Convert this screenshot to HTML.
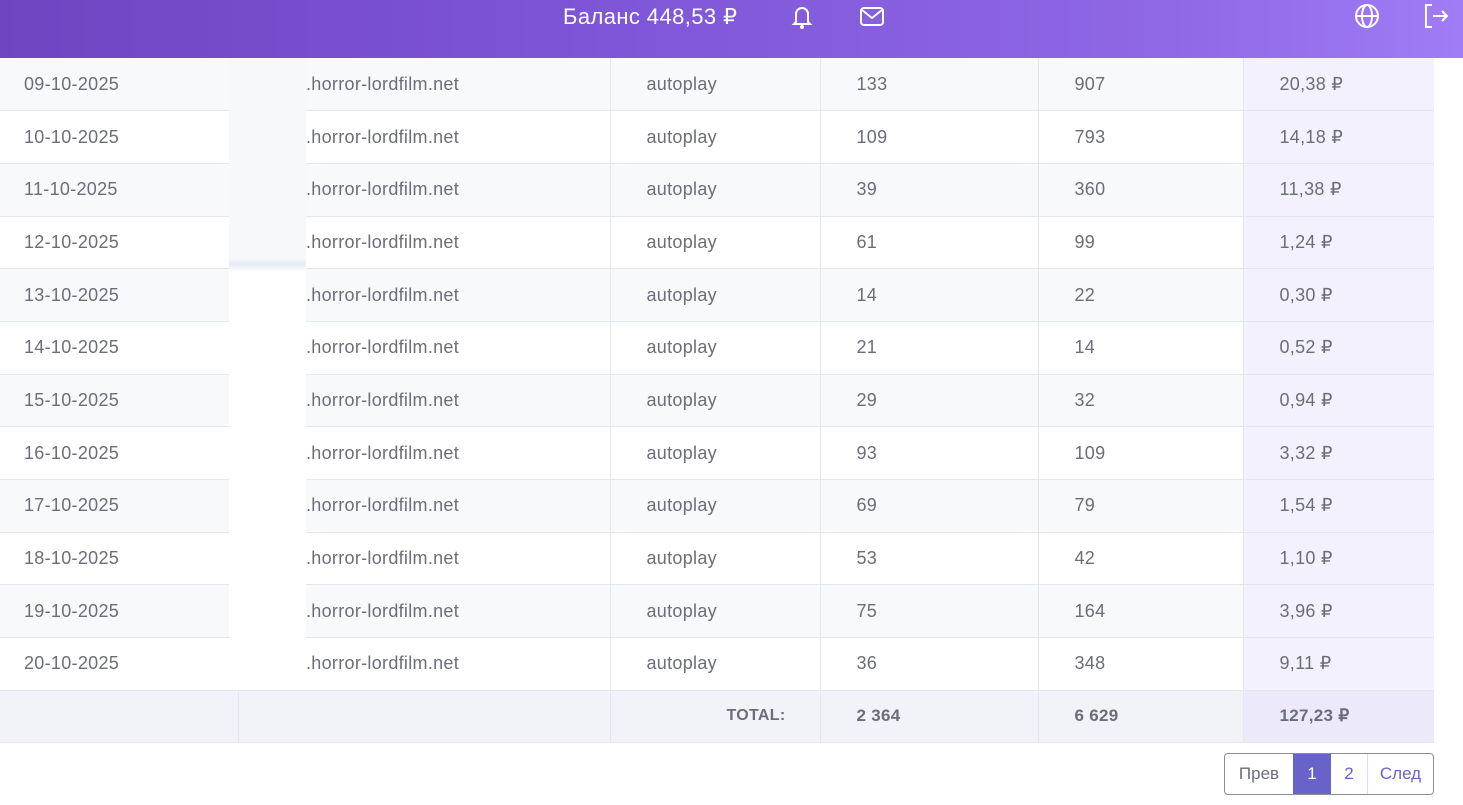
<!DOCTYPE html>
<html><head><meta charset="utf-8"><style>
*{margin:0;padding:0;box-sizing:border-box}
body{width:1463px;height:805px;overflow:hidden;background:#fff;font-family:"Liberation Sans",sans-serif;position:relative;color:#6b6e78}
.hdr{position:absolute;left:0;top:0;width:1463px;height:58px;background:linear-gradient(90deg,#7045c2 0%,#7d55d6 40%,#8f68e6 80%,#a07cf6 100%);color:#fff}
.hdr .bal{position:absolute;left:563px;top:4px;font-size:22px;letter-spacing:0.4px}
.ic{position:absolute;top:2px}
table{position:absolute;left:0;top:58px;width:1434px;border-collapse:collapse;font-size:18px;letter-spacing:0.3px}
td{height:52.7px;border-bottom:1px solid #e3e8ee;padding:0;white-space:nowrap}
tr:nth-child(odd) td{background:#f8f9fb}
td.b{border-left:1px solid #e3e8ee}
td.l{background:#f3f1fd!important}
tr.tot td{background:#f1f3f8;font-weight:bold;height:52px;font-size:17px}
tr.tot td.l{background:#ece9fb!important}
.ov{position:absolute;left:229px;top:58px;width:77px;height:620px;background:linear-gradient(#f7f8fa 0,#f7f8fa 200px,#e6ebf1 206px,#fff 214px,#fff 100%)}
.pg{position:absolute;left:1224px;top:753px;height:42px;display:flex;border:1px solid #8a8d96;border-radius:4px;overflow:hidden;font-size:17px}
.pg div{display:flex;align-items:center;justify-content:center;color:#6c63c9}
</style></head><body>
<div class="hdr"><span class="bal">Баланс 448,53 ₽</span>
<svg class="ic" style="left:788px" width="28" height="30" viewBox="0 0 28 30"><path d="M8 20V12a6 6 0 0112 0v8l2 2H6z" fill="none" stroke="#fff" stroke-width="2"/><circle cx="14" cy="25" r="2" fill="#fff"/></svg>
<svg class="ic" style="left:858px" width="28" height="30" viewBox="0 0 28 30"><rect x="3" y="6" width="22" height="17" rx="3" fill="none" stroke="#fff" stroke-width="2"/><path d="M4 8l10 8 10-8" fill="none" stroke="#fff" stroke-width="2"/></svg>
<svg class="ic" style="left:1353px" width="28" height="30" viewBox="0 0 28 30"><circle cx="14" cy="14" r="11" fill="none" stroke="#fff" stroke-width="2"/><ellipse cx="14" cy="14" rx="5" ry="11" fill="none" stroke="#fff" stroke-width="2"/><path d="M3 14h22" stroke="#fff" stroke-width="2"/></svg>
<svg class="ic" style="left:1422px" width="30" height="30" viewBox="0 0 30 30"><path d="M10 3H4v22h6" fill="none" stroke="#fff" stroke-width="2"/><path d="M11 14h14M20 9l5 5-5 5" fill="none" stroke="#fff" stroke-width="2"/></svg>
</div>
<table>
<colgroup><col style="width:238px"><col style="width:372px"><col style="width:210px"><col style="width:218px"><col style="width:205px"><col style="width:191px"></colgroup>
<tbody id="tb"></tbody>
</table>
<div class="ov"></div>
<div class="pg"><div style="width:68px;color:#6b6e78">Прев</div><div style="width:38px;background:#6962c8;color:#fff">1</div><div style="width:37px;border-right:1px solid #dde">2</div><div style="width:65px">След</div></div>
<script>
var d=[["09",133,907,"20,38"],["10",109,793,"14,18"],["11",39,360,"11,38"],["12",61,99,"1,24"],["13",14,22,"0,30"],["14",21,14,"0,52"],["15",29,32,"0,94"],["16",93,109,"3,32"],["17",69,79,"1,54"],["18",53,42,"1,10"],["19",75,164,"3,96"],["20",36,348,"9,11"]];
var h="";d.forEach(function(r){h+='<tr><td style="padding-left:24px">'+r[0]+'-10-2025</td><td style="padding-left:68px">.horror-lordfilm.net</td><td class="b" style="padding-left:36px">autoplay</td><td class="b" style="padding-left:36px">'+r[1]+'</td><td class="b" style="padding-left:36px">'+r[2]+'</td><td class="b l" style="padding-left:36px">'+r[3]+' ₽</td></tr>'});
h+='<tr class="tot"><td></td><td class="b"></td><td class="b" style="text-align:right;padding-right:34px;font-size:16px">TOTAL:</td><td class="b" style="padding-left:36px">2 364</td><td class="b" style="padding-left:36px">6 629</td><td class="b l" style="padding-left:36px">127,23 ₽</td></tr>';
document.getElementById("tb").innerHTML=h;
</script>
</body></html>
